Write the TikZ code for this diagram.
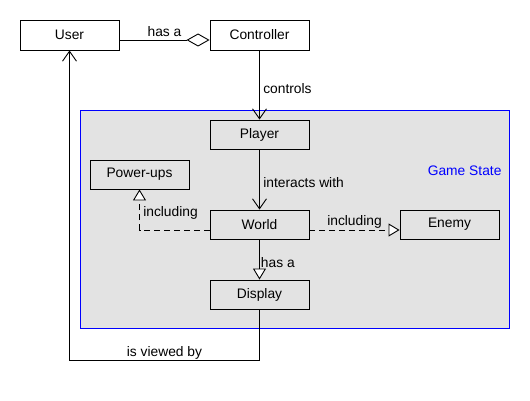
\documentclass[tikz,border=0pt]{standalone}
\usepackage{fontspec}
\setmainfont{Liberation Sans}
\usetikzlibrary{arrows.meta}
\colorlet{stategray}{gray!22}
\tikzset{
  umlclass/.style = {draw, line width=0.9pt, minimum width=99pt, minimum height=29pt, inner sep=0pt},
  link/.style = {line width=0.9pt},
  vee/.style = {link, -{Straight Barb[length=10pt,width=14pt]}},
  inherit/.style = {link, -{Triangle[length=11pt,width=13pt,fill=white]}},
  aggregate/.style = {link, -{Diamond[length=23pt,width=13pt,fill=white]}},
  realize/.style = {inherit, dash pattern=on 6pt off 4pt}
}

\begin{document}
\begin{tikzpicture}[x=1pt,y=1pt,every node/.style={font=\fontsize{13.8}{16}\selectfont}]
  \useasboundingbox (0,0) rectangle (530,400);
  % game state
  \draw[blue, line width=0.9pt, fill=stategray] (80,72) rectangle (509,290);
  \node (GS) at (505,229) [anchor=east, text=blue] {Game State};
  % classes
  \node (User) at (69.5,365) [umlclass, minimum height=30pt] {User};
  \node (Ctrl) at (259.5,365) [umlclass, minimum height=30pt] {Controller};
  \node (Player) at (259.5,265.5) [umlclass] {Player};
  \node (Power) at (139.5,225.5) [umlclass] {Power-ups};
  \node (World) at (259.5,175.5) [umlclass] {World};
  \node (Enemy) at (449.5,175.5) [umlclass] {Enemy};
  \node (Disp) at (259.5,105.5) [umlclass] {Display};
  % relations
  \draw[aggregate] ([yshift=-5pt]User.east) -- node[above] {has a} ([yshift=-5pt]Ctrl.west);
  \draw[vee] (Ctrl.south) -- node[right, yshift=-4pt] {controls} (Player.north);
  \draw[vee] (Player.south) -- node[right, yshift=-3pt] {interacts with} (World.north);
  \draw[realize] ([yshift=-5.5pt]World.west) -| node[pos=0.75, right, yshift=-3pt] {including} (Power.south);
  \draw[realize] ([yshift=-5.5pt]World.east) -- node[above, yshift=-2pt] {including} ([yshift=-5.5pt]Enemy.west);
  \draw[inherit] (World.south) -- node[right, inner sep=1pt, yshift=-3pt] {has a} (Disp.north);
  \draw[vee] (Disp.south) -- ++(0,-50.5) -| node[pos=0.25, above, yshift=-3pt] {is viewed by} (User.south);
\end{tikzpicture}
\end{document}
